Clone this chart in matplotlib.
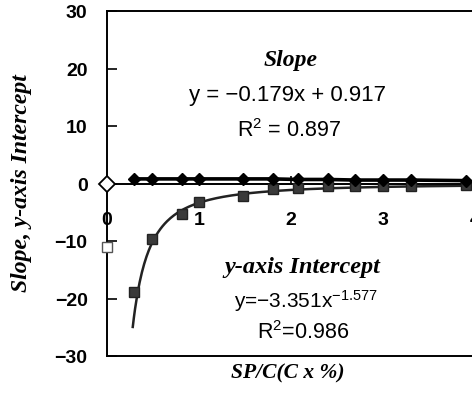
import numpy as np
import matplotlib.pyplot as plt

plt.rcParams['font.family'] = ['Liberation Sans', 'DejaVu Sans']
plt.rcParams['mathtext.fontset'] = 'custom'
plt.rcParams['mathtext.rm'] = 'Liberation Sans'
plt.rcParams['mathtext.it'] = 'Liberation Sans:italic'

# SP/C values and the two fitted quantities
sp_c = [0.29, 0.49, 0.82, 1.0, 1.48, 1.8, 2.08, 2.4, 2.7, 3.0, 3.3, 3.9]
slope = [0.8, 0.8, 0.8, 0.8, 0.8, 0.8, 0.7, 0.7, 0.6, 0.6, 0.6, 0.5]
intercept = [-18.9, -9.6, -5.3, -3.2, -2.2, -1.0, -0.8, -0.5, -0.5, -0.4, -0.4, -0.3]

# points at SP/C = 0 (open markers)
zero_x = [0.0]
zero_slope = [0.0]
zero_intercept = [-11.0]

# power-law trendline for the intercept
pow_a = -3.351
pow_b = -1.577
trend_start = 0.28
trend_end = 4.0

fig = plt.figure(figsize=(4.72, 4.14), dpi=100)
ax = fig.add_axes([107 / 472, 57 / 414, 368 / 472, 345 / 414])

xs = np.linspace(trend_start, trend_end, 300)
ax.plot(xs, pow_a * xs ** pow_b, color='#222222', lw=1.8, zorder=2)

ax.plot(sp_c, intercept, ls='none', marker='s', ms=7.5, color='#3a3a3a',
        mec='#222222', zorder=3)
ax.plot(sp_c, slope, '-', marker='D', ms=6.5, color='black', lw=2.6, zorder=4)
ax.plot(zero_x, zero_slope, ls='none', marker='D', ms=8.5, mfc='white',
        mec='black', mew=1.3, clip_on=False, zorder=5)
ax.plot(zero_x, zero_intercept, ls='none', marker='s', ms=6.5, mfc='white',
        mec='#555555', mew=1.0, clip_on=False, zorder=5)

ax.set_xlim(0, 4)
ax.set_ylim(-30, 30)
ax.set_xticks([0, 1, 2, 3, 4])
ax.set_yticks([-30, -20, -10, 0, 10, 20, 30])

ax.spines['bottom'].set_position(('data', 0))
ax.spines['right'].set_visible(False)
for s in ['bottom', 'top', 'left']:
    ax.spines[s].set_linewidth(1.4)
ax.axhline(-30, color='black', lw=1.4, clip_on=False)

ax.tick_params(axis='y', direction='in', length=7, width=1.2, pad=14,
               labelsize=14)
ax.tick_params(axis='x', direction='in', length=6, width=1.2, pad=20,
               labelsize=14)
for lab in ax.get_xticklabels() + ax.get_yticklabels():
    lab.set_fontweight('bold')

serif = 'Liberation Serif'
ax.text(2.0, 21.5, 'Slope', family=serif, weight='bold', style='italic',
        fontsize=17, ha='center', va='center')
ax.text(1.96, 15.4, 'y = −0.179x + 0.917', fontsize=16, ha='center', va='center')
ax.text(1.98, 9.4, 'R$^2$ = 0.897', fontsize=15.5, ha='center', va='center')

ax.text(2.12, -14.5, 'y-axis Intercept', family=serif, weight='bold',
        style='italic', fontsize=17.5, ha='center', va='center')
ax.text(2.16, -20.2, 'y=−3.351x$^{\\mathrm{-1.577}}$', fontsize=15,
        ha='center', va='center')
ax.text(2.13, -25.8, 'R$^2$=0.986', fontsize=15.5, ha='center', va='center')

fig.text(288 / 472, 1 - 373 / 414, 'SP/C(C x %)', family=serif, weight='bold',
         style='italic', fontsize=15.5, ha='center', va='center')
fig.text(22 / 472, 1 - 183 / 414, 'Slope, y-axis Intercept', family=serif,
         weight='bold', style='italic', fontsize=17, ha='center', va='center',
         rotation=90)

fig.savefig('out.png', dpi=100)
